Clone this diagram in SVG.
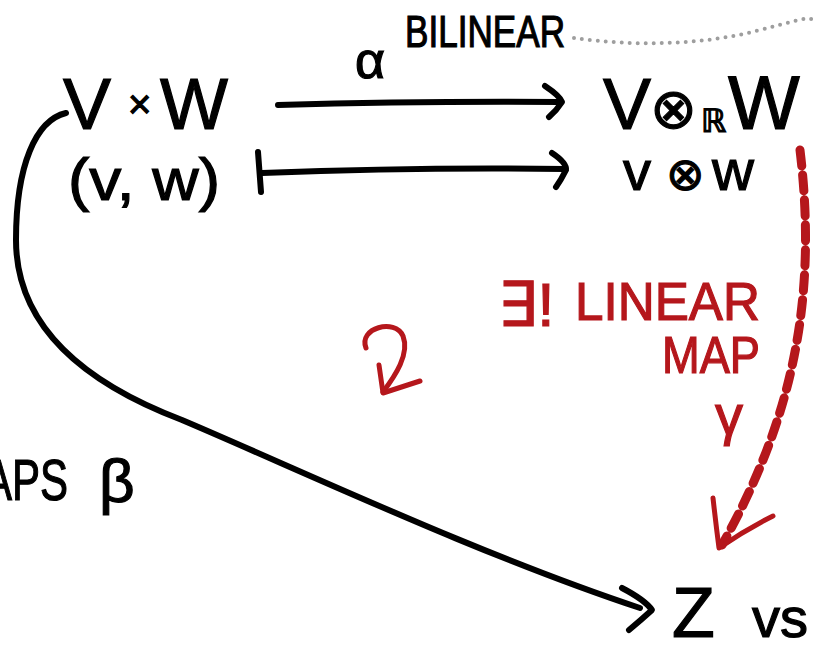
<svg xmlns="http://www.w3.org/2000/svg" width="815" height="652" viewBox="0 0 815 652">
<style>
.t{font-family:"Liberation Sans","DejaVu Sans",sans-serif;fill:#000;stroke:#000;stroke-width:1.2}
.r{fill:#b5171c;stroke:#b5171c}
.ln{fill:none;stroke:#000;stroke-width:6;stroke-linecap:round;stroke-linejoin:round}
.rd{fill:none;stroke:#b5171c;stroke-linecap:round;stroke-linejoin:round}
</style>
<rect width="815" height="652" fill="#fff"/>
<g id="connectors">
<path class="ln" d="M278,105 Q420,101 560,102"/>
<path class="ln" d="M545,86 Q560,96 562,102 Q557,110 549,117"/>
<path class="ln" d="M258,152 L261,192"/>
<path class="ln" d="M262,173 Q420,167 565,169"/>
<path class="ln" d="M552,153 Q567,163 566,170 Q561,180 556,187"/>
<path class="ln" d="M66,113 C36,120 16,165 16,240 C16,330 90,385 182,420 C300,470 480,555 640,608"/>
<path class="ln" d="M622,588 Q645,600 652,610 Q641,620 629,630"/>
<path class="rd" stroke-width="9" stroke-linecap="butt" stroke-dasharray="16 9" d="M800,150 C818,300 792,420 722,545"/>
<path class="rd" stroke-width="5" d="M713,498 Q716,525 719,548 Q745,530 773,516"/>
<path fill="none" stroke="#9e9e9e" stroke-width="4" stroke-linecap="round" stroke-dasharray="0 8" d="M574,38 C630,46 700,46 760,30 S800,20 815,19"/>
</g>
<g id="curl">
<path class="rd" stroke-width="5" d="M366,348 C358,328 395,318 403,336 C410,354 395,376 383,392"/>
<path class="rd" stroke-width="5" d="M379,365 L383,393 L420,381"/>
</g>
<g id="node-VxW">
<text class="t" y="129"><tspan x="63" font-size="72">V</tspan><tspan x="128" y="118" font-size="40">×</tspan><tspan x="160" y="129" font-size="72">W</tspan></text>
<text class="t" x="68" y="200" font-size="60" textLength="152" lengthAdjust="spacingAndGlyphs">(v, w)</text>
</g>
<g id="node-tensor">
<text class="t" y="129"><tspan x="603" font-size="72">V</tspan><tspan x="650" y="128" font-size="56">⊗</tspan><tspan x="701" y="132" font-size="32">ℝ</tspan><tspan x="728" y="129" font-size="76">W</tspan></text>
<text class="t" y="190"><tspan x="623" font-size="56">v</tspan><tspan x="666" y="190" font-size="46">⊗</tspan><tspan x="712" y="190" font-size="58">w</tspan></text>
</g>
<g id="label-alpha">
<text class="t" x="355" y="78" font-size="52">α</text>
<text class="t" x="405" y="47" font-size="44" textLength="160" lengthAdjust="spacingAndGlyphs">BILINEAR</text>
</g>
<g id="label-beta">
<text class="t" x="-16" y="500" font-size="58" textLength="84" lengthAdjust="spacingAndGlyphs">APS</text>
<text class="t" x="99" y="502" font-size="62">β</text>
</g>
<g id="label-gamma">
<text class="t r" x="498" y="326" font-size="62">∃!</text>
<text class="t r" x="575" y="320" font-size="54" textLength="185" lengthAdjust="spacingAndGlyphs">LINEAR</text>
<text class="t r" x="662" y="373" font-size="52" textLength="98" lengthAdjust="spacingAndGlyphs">MAP</text>
<text class="t r" x="715" y="434" font-size="56">γ</text>
</g>
<g id="node-Z">
<text class="t" x="672" y="637" font-size="70">Z</text>
<text class="t" x="752" y="637" font-size="56">vs</text>
</g>
</svg>
